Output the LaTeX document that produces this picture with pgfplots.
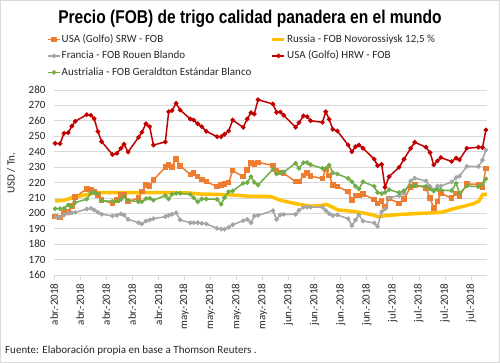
\documentclass[border=0pt]{standalone}
\usepackage{pgfplots}
\pgfplotsset{compat=1.18}
\usepackage{pgfplotstable}
\usepackage{fontspec}
\setmainfont{Carlito}
\newfontfamily\titlefont[FakeStretch=0.84]{Liberation Sans}
\definecolor{cOr}{HTML}{ED7D31}
\definecolor{cYe}{HTML}{FFC000}
\definecolor{cGr}{HTML}{A5A5A5}
\definecolor{cRd}{HTML}{C00000}
\definecolor{cGn}{HTML}{70AD47}
\definecolor{cGrid}{HTML}{D9D9D9}
\definecolor{cTxt}{HTML}{262626}

\pgfplotstableread{
d     srw    frn    hrw    aus
0.3   197.8  197.8  245.4  203.0
1.6   197.3  197.4  245.2  203.0
2.7   200.5  198.9  251.9  203.2
3.8   200.9  200.0  252.3  205.4
4.8   204.8  200.4  256.6  204.5
5.7   210.6  200.6  259.7  207.0
8.8   215.8  202.8  264.0  209.2
9.9   215.6  203.3  263.6  213.2
10.8  214.0  202.2  261.4  213.5
11.8  212.0  200.7  253.0  212.8
12.8  208.5  199.4  246.5  208.2
15.7  206.5  198.3  238.1  207.8
16.9  208.7  198.7  238.9  208.0
18.0  211.9  199.6  242.2  209.0
18.8  212.3  198.9  244.8  211.0
19.9  207.6  196.1  239.8  208.5
22.7  210.0  193.9  249.3  207.5
23.6  214.0  193.1  252.6  207.5
24.7  218.4  195.0  258.1  209.5
25.7  217.7  195.7  256.2  209.8
26.7  221.6  196.5  244.3  208.5
29.9  229.9  197.8  246.3  211.5
30.8  231.4  198.7  265.9  209.3
31.7  230.1  199.4  266.6  212.3
32.8  235.2  200.4  271.4  213.0
33.9  230.7  195.7  267.0  213.0
36.6  225.3  193.9  261.2  212.3
37.5  226.0  193.9  260.5  210.1
38.6  223.8  193.9  258.1  207.5
39.7  222.1  193.5  256.2  209.3
40.9  220.5  193.1  253.2  209.3
43.8  217.3  190.3  249.7  209.1
44.9  218.4  189.8  249.7  205.9
45.8  219.0  189.7  251.3  210.1
46.9  219.9  191.0  253.4  214.0
48.0  227.7  192.6  260.5  214.5
50.8  223.8  195.2  255.8  219.5
51.9  228.0  196.1  261.2  220.0
52.9  232.5  193.9  265.3  223.8
53.8  232.0  198.3  264.4  220.1
54.8  233.1  198.7  273.7  218.4
58.8  231.0  201.7  270.9  228.5
59.8  227.5  196.0  265.5  225.5
60.8  226.5  199.0  265.7  226.5
61.7  226.0  199.3  263.6  226.8
64.9  220.5  199.3  255.8  232.5
65.8  220.7  202.0  258.8  229.2
67.0  224.5  204.0  263.2  232.9
68.0  226.0  204.0  262.7  232.9
68.9  224.2  204.0  260.1  231.5
72.1  222.5  204.0  259.0  229.2
73.0  228.5  201.8  265.9  229.2
73.9  224.5  199.8  261.0  231.3
74.9  218.5  198.5  254.5  226.3
76.1  217.5  199.0  253.4  225.5
79.0  214.0  196.5  244.3  222.7
80.0  208.7  192.0  240.0  220.5
81.0  211.5  195.7  243.2  217.5
81.9  211.5  199.0  244.3  215.8
83.0  212.5  195.0  242.2  220.5
86.0  209.0  193.8  235.2  217.5
86.9  206.4  191.5  230.9  213.5
88.0  208.1  201.0  231.8  212.8
88.9  204.3  202.8  216.9  213.6
90.0  209.5  210.0  223.8  215.3
92.7  206.5  211.5  229.9  213.4
94.0  209.4  213.0  235.1  214.7
95.8  217.0  221.0  242.2  217.8
96.9  218.5  222.8  246.1  218.0
99.9  216.5  221.0  242.9  217.5
101.0 209.8  217.4  239.4  215.8
102.0 203.3  215.1  231.4  214.5
103.0 207.6  217.7  234.0  215.6
103.9 213.0  217.7  236.2  215.1
106.8 209.8  220.3  233.6  214.7
108.0 213.0  223.2  235.8  219.5
108.9 211.2  224.1  234.7  213.0
110.9 219.0  230.5  242.2  217.7
114.0 218.8  230.3  242.9  217.3
115.1 216.9  234.6  242.7  219.0
116.0 229.2  241.1  254.1  222.3
}\wheat

\pgfplotstableread{
d     rus
0.3   208.0
2.7   208.5
4.8   210.0
7.5   211.5
11.6  213.5
20.5  213.5
35.8  213.3
39.3  212.5
43.9  212.3
48.2  211.9
52.8  211.0
58.2  210.9
60.8  208.5
63.5  207.0
66.2  205.7
68.9  204.6
71.6  205.0
73.2  205.8
74.8  204.0
76.2  202.2
78.3  201.8
81.0  201.0
82.9  200.3
85.6  199.0
87.0  197.8
89.1  198.5
93.1  199.3
98.5  200.0
103.9 200.6
107.4 203.0
112.8 206.3
114.1 208.0
115.2 212.3
116.3 212.3
}\russia

\begin{document}
\begin{tikzpicture}[x=1pt,y=1pt]
\path[use as bounding box] (0,0) rectangle (500,363);
\draw[cGrid, line width=0.8pt] (0.5,0.5) rectangle (499.5,362.5);
\node[font=\titlefont\bfseries\fontsize{18.5}{20}\selectfont] at (250,344.5) {Precio (FOB) de trigo calidad panadera en el mundo};
\node[anchor=west, text=cTxt, font=\fontsize{11}{12}\selectfont, inner sep=0pt] at (5,12) {Fuente: Elaboración propia en base a Thomson Reuters .};
\begin{axis}[
  at={(54pt,88pt)}, anchor=south west,
  scale only axis, width=433pt, height=185pt,
  xmin=0, xmax=116.3, ymin=160, ymax=280,
  clip=false,
  ytick={160,170,...,280},
  xtick={0,7,...,112},
  xticklabels={abr.-2018,abr.-2018,abr.-2018,abr.-2018,abr.-2018,may.-2018,may.-2018,may.-2018,may.-2018,jun.-2018,jun.-2018,jun.-2018,jun.-2018,jul.-2018,jul.-2018,jul.-2018,jul.-2018},
  axis x line*=bottom, axis y line*=left,
  y axis line style={draw=none},
  x axis line style={cGrid, line width=0.8pt},
  ymajorgrids, grid style={cGrid, line width=0.7pt},
  ytick style={draw=none},
  xtick style={cGrid, line width=0.7pt},
  tick align=outside, major tick length=5pt,
  /pgf/number format/assume math mode=true,
  xticklabel style={rotate=90, anchor=east, text=cTxt, font=\fontsize{11}{12}\selectfont},
  yticklabel style={text=cTxt, font=\fontsize{11}{12}\selectfont},
  ylabel={USD / Tn.},
  every axis y label/.style={at={(axis description cs:-0.099,0.55)}, rotate=90, anchor=center, text=cTxt, font=\fontsize{11}{12}\selectfont},
  legend columns=2,
  legend cell align=left,
  legend style={at={(axis description cs:-0.023,1.319)}, anchor=north west, draw=none, fill=none,
    text=cTxt, font=\fontsize{11}{12}\selectfont,
    nodes={inner sep=1pt, text height=8pt, text depth=2.5pt},
    row sep=4pt,
    /tikz/every even column/.append style={column sep=4pt}},
  legend image code/.code={\draw[mark repeat=2,mark phase=2,#1] plot coordinates {(0pt,0pt)(6pt,0pt)(12pt,0pt)};},
]
\addplot[cOr, line width=1.5pt, mark=square*, mark size=2pt, mark options={solid}] table[x=d,y=srw] {\wheat};
\addlegendentry{\makebox[204pt][l]{USA (Golfo) SRW - FOB}}
\addplot[cYe, line width=3.5pt] table[x=d,y=rus] {\russia};
\addlegendentry{Russia - FOB Novorossiysk 12,5 \%}
\addplot[cGr, line width=1.5pt, mark=*, mark size=1.5pt, mark options={solid}] table[x=d,y=frn] {\wheat};
\addlegendentry{\makebox[204pt][l]{Francia - FOB Rouen Blando}}
\addplot[cRd, line width=1.5pt, mark=*, mark size=1.5pt, mark options={solid}] table[x=d,y=hrw] {\wheat};
\addlegendentry{USA (Golfo) HRW - FOB}
\addplot[cGn, line width=1.5pt, mark=*, mark size=1.5pt, mark options={solid}] table[x=d,y=aus] {\wheat};
\addlegendentry{\makebox[204pt][l]{Austrialia - FOB Geraldton Estándar Blanco}}
\end{axis}
\end{tikzpicture}
\end{document}
